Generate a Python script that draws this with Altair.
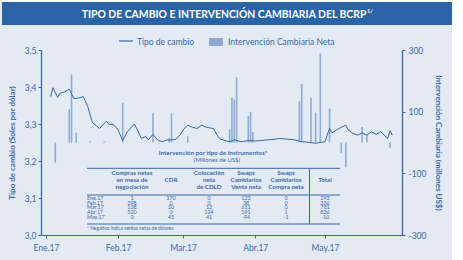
import altair as alt
import pandas as pd

# Tipo de cambio diario (soles por dólar)
tc_fecha = ["2017-01-03", "2017-01-04", "2017-01-06", "2017-01-07", "2017-01-09", "2017-01-11",
            "2017-01-13", "2017-01-15", "2017-01-17", "2017-01-19", "2017-01-20", "2017-01-21",
            "2017-01-24", "2017-01-27", "2017-01-28", "2017-01-30",
            "2017-02-01", "2017-02-03", "2017-02-05", "2017-02-08", "2017-02-09", "2017-02-11",
            "2017-02-13", "2017-02-14", "2017-02-16", "2017-02-18", "2017-02-20", "2017-02-22",
            "2017-02-24", "2017-02-26", "2017-02-28",
            "2017-03-01", "2017-03-02", "2017-03-03", "2017-03-05", "2017-03-07", "2017-03-09",
            "2017-03-11", "2017-03-14", "2017-03-16", "2017-03-17", "2017-03-21", "2017-03-23",
            "2017-03-26", "2017-03-29",
            "2017-04-01", "2017-04-03", "2017-04-06", "2017-04-10", "2017-04-11", "2017-04-15",
            "2017-04-18", "2017-04-21", "2017-04-23", "2017-04-27",
            "2017-05-01", "2017-05-03", "2017-05-04", "2017-05-06", "2017-05-08", "2017-05-10",
            "2017-05-11", "2017-05-13", "2017-05-15", "2017-05-17", "2017-05-19", "2017-05-21",
            "2017-05-23", "2017-05-25", "2017-05-28", "2017-05-29", "2017-05-30"]
tc_valor = [3.374, 3.398, 3.372, 3.383, 3.387, 3.394, 3.369, 3.370, 3.374, 3.347, 3.324, 3.304,
            3.288, 3.308, 3.299, 3.299,
            3.284, 3.255, 3.279, 3.300, 3.288, 3.261, 3.266, 3.257, 3.272, 3.257, 3.252, 3.257,
            3.257, 3.259, 3.273,
            3.284, 3.291, 3.297, 3.291, 3.288, 3.297, 3.291, 3.288, 3.266, 3.259, 3.252, 3.257,
            3.252, 3.255,
            3.254, 3.255, 3.257, 3.259, 3.261, 3.259, 3.257, 3.252, 3.251, 3.248,
            3.252, 3.288, 3.276, 3.284, 3.291, 3.297, 3.284, 3.275, 3.270, 3.276, 3.270, 3.279,
            3.272, 3.279, 3.261, 3.282, 3.270]

# Intervención cambiaria neta (millones US$)
int_fecha = ["2017-01-05", "2017-01-11", "2017-01-12", "2017-01-14", "2017-01-20", "2017-01-26",
             "2017-02-03", "2017-02-16", "2017-02-23", "2017-02-24",
             "2017-03-03", "2017-03-21", "2017-03-22", "2017-03-23", "2017-03-24", "2017-03-29",
             "2017-03-30", "2017-03-31",
             "2017-04-20", "2017-04-21", "2017-04-25", "2017-04-27", "2017-04-29",
             "2017-05-03", "2017-05-08", "2017-05-10", "2017-05-17", "2017-05-19", "2017-05-29"]
int_valor = [-65, 108, 221, 32, 5, 3,
             129, 95, 15, 95,
             20, 43, 147, 140, 212, 86, 99, 34,
             134, 190, 145, 97, 289,
             110, -35, -80, 50, 25, -17]

# Intervención por tipo de instrumento (millones US$)
tabla_meses = ["Ene.17", "Feb.17", "Mar.17", "Abr.17", "May.17"]
compras_netas = [1, 298, 138, 520, 0]
cdr = [170, 0, 20, 0, 45]
colocacion_cdld = [0, 0, 12, 124, 41]
swaps_venta = [122, 38, 611, 191, -94]
swaps_compra = [0, 0, 0, 1, -1]
total = [293, 336, 781, 836, -10]

mes_ticks = ["2017-01-01", "2017-02-01", "2017-03-01", "2017-04-01", "2017-05-01"]
tc_ticks = [3.0, 3.1, 3.2, 3.3, 3.4, 3.5]
int_ticks = [-300, -100, 100, 300]

AZUL = "#3567ad"
AZUL_TXT = "#3a69ab"
BARRA = "#90abd3"
FONDO = "#e4eaf3"
FONT = "Lato"

# origin of the plot area inside the page
X0, Y0 = 41, 50
W, H = 361, 185


def dt(s):
    y, m, d = (int(p) for p in s.split("-"))
    return alt.DateTime(year=y, month=m, date=d, utc=True)


x_enc = alt.X(
    "fecha:T",
    scale=alt.Scale(type="utc", domain=[dt("2017-01-01"), dt("2017-06-01")]),
    axis=alt.Axis(
        title=None, values=[dt(s) for s in mes_ticks],
        labelExpr="['Ene','Feb','Mar','Abr','May','Jun'][utcmonth(datum.value)] + '.17'",
        labelFont=FONT, labelFontSize=8.5, labelColor=AZUL_TXT, labelPadding=5,
        domainColor=AZUL, tickColor=AZUL, tickSize=3, grid=False,
    ),
)

barras = alt.Chart(pd.DataFrame({"fecha": int_fecha, "valor": int_valor})).mark_bar(
    width=1.6, color=BARRA
).encode(
    x=x_enc,
    y=alt.Y(
        "valor:Q",
        scale=alt.Scale(domain=[-300, 300], nice=False, zero=False),
        axis=alt.Axis(
            orient="right", values=int_ticks, labelExpr="'' + datum.value",
            title="Intervención Cambiaria (millones US$)",
            titleFont=FONT, titleFontSize=8, titleFontWeight="bold", titleColor=AZUL_TXT,
            titlePadding=8,
            labelFont=FONT, labelFontSize=8.5, labelColor=AZUL_TXT, labelPadding=3,
            domainColor=AZUL, domainWidth=1.3, tickColor=AZUL, tickSize=3, grid=False,
        ),
    ),
)

linea = alt.Chart(pd.DataFrame({"fecha": tc_fecha, "valor": tc_valor})).mark_line(
    color=AZUL, strokeWidth=1
).encode(
    x=x_enc,
    y=alt.Y(
        "valor:Q",
        scale=alt.Scale(domain=[3.0, 3.5], nice=False, zero=False),
        axis=alt.Axis(
            orient="left", values=tc_ticks,
            labelExpr="replace(format(datum.value, '.1f'), '.', ',')",
            title="Tipo de cambio (Soles por dólar)",
            titleFont=FONT, titleFontSize=8, titleFontWeight="bold", titleColor=AZUL_TXT,
            titlePadding=8,
            labelFont=FONT, labelFontSize=8.5, labelColor=AZUL_TXT, labelPadding=2,
            domainColor=AZUL, domainWidth=1.3, tickColor=AZUL, tickSize=3, grid=False,
        ),
    ),
)


def one(**cols):
    return pd.DataFrame({k: [v] for k, v in cols.items()})


def texto(s, x, y, size, weight="normal", align="left", color=AZUL_TXT,
          baseline="middle", line_height=None):
    kw = {}
    if line_height is not None:
        kw["lineHeight"] = line_height
    return alt.Chart(one(t=s)).mark_text(
        font=FONT, fontSize=size, fontWeight=weight, align=align, baseline=baseline,
        color=color, lineBreak="\n", **kw
    ).encode(x=alt.value(x - X0), y=alt.value(y - Y0), text="t:N")


def caja(x1, x2, y1, y2, color):
    return alt.Chart(one(k=0)).mark_rect(color=color).encode(
        x=alt.value(x1 - X0), x2=alt.value(x2 - X0),
        y=alt.value(y1 - Y0), y2=alt.value(y2 - Y0),
    )


def raya(x1, x2, y1, y2, color=AZUL, width=1):
    return alt.Chart(one(k=0)).mark_rule(color=color, strokeWidth=width).encode(
        x=alt.value(x1 - X0), x2=alt.value(x2 - X0),
        y=alt.value(y1 - Y0), y2=alt.value(y2 - Y0),
    )


# title banner and page edge
decor = [
    caja(452, 463, 0, 260, "#ffffff"),
    caja(0, 463, 0, 2, "#ffffff"),
    caja(2, 452, 2, 25, "#2b63a7"),
    texto("TIPO DE CAMBIO E INTERVENCIÓN CAMBIARIA DEL BCRP", 224, 14.5, 10.4,
          weight="bold", align="center", color="#ffffff"),
    texto("1/", 367, 10.5, 5.5, weight="bold", align="left", color="#ffffff"),
]

# legend
leyenda = [
    raya(119, 133, 41, 41, AZUL, 1.2),
    texto("Tipo de cambio", 137, 41.5, 8.5),
    caja(209, 223, 38, 46, BARRA),
    texto("Intervención Cambiaria Neta", 228, 42, 8.5),
]

# inset table
col_x = [132, 171, 209, 246, 286, 325]
columnas = [compras_netas, cdr, colocacion_cdld, swaps_venta, swaps_compra, total]
encabezados = ["Compras netas\nen mesa de\nnegociación", "CDR", "Colocación\nneta\nde CDLD",
               "Swaps\nCambiarios\nVenta neta", "Swaps\nCambiarios\nCompra neta", "Total"]

tabla = [
    texto("Intervención por tipo de instrumentos*", 213, 153, 6.3, weight="bold", align="center"),
    texto("(Millones de US$)", 217, 159.5, 6, align="center"),
    raya(87, 340, 168.3, 168.3),
    raya(87, 340, 195, 195),
    raya(87, 340, 224, 224),
    raya(309.5, 309.5, 168.3, 224),
    texto("\n".join(tabla_meses), 87, 195.8, 5.4, baseline="top", line_height=4.8),
    texto("* Negativo indica ventas netas de dólares.", 87, 229.3, 4.8),
]
for cx, enc in zip(col_x, encabezados):
    n = enc.count("\n") + 1
    top = 170 if n == 3 else 177.3
    tabla.append(texto(enc, cx, top, 6.2, weight="bold", align="center",
                       baseline="top", line_height=7.2))
for cx, vals in zip(col_x, columnas):
    tabla.append(texto("\n".join(str(v) for v in vals), cx, 195.8, 5.4, align="center",
                       baseline="top", line_height=4.8))

chart = alt.layer(
    *decor, *leyenda, *tabla, barras, linea
).resolve_scale(
    y="independent"
).properties(
    width=W, height=H, background=FONDO,
    padding={"left": X0, "top": Y0, "right": 463 - X0 - W, "bottom": 260 - Y0 - H},
    autosize=alt.AutoSizeParams(type="none"),
).configure_view(stroke=None)

chart.save("out.html", embed_options={"renderer": "svg", "actions": False})
